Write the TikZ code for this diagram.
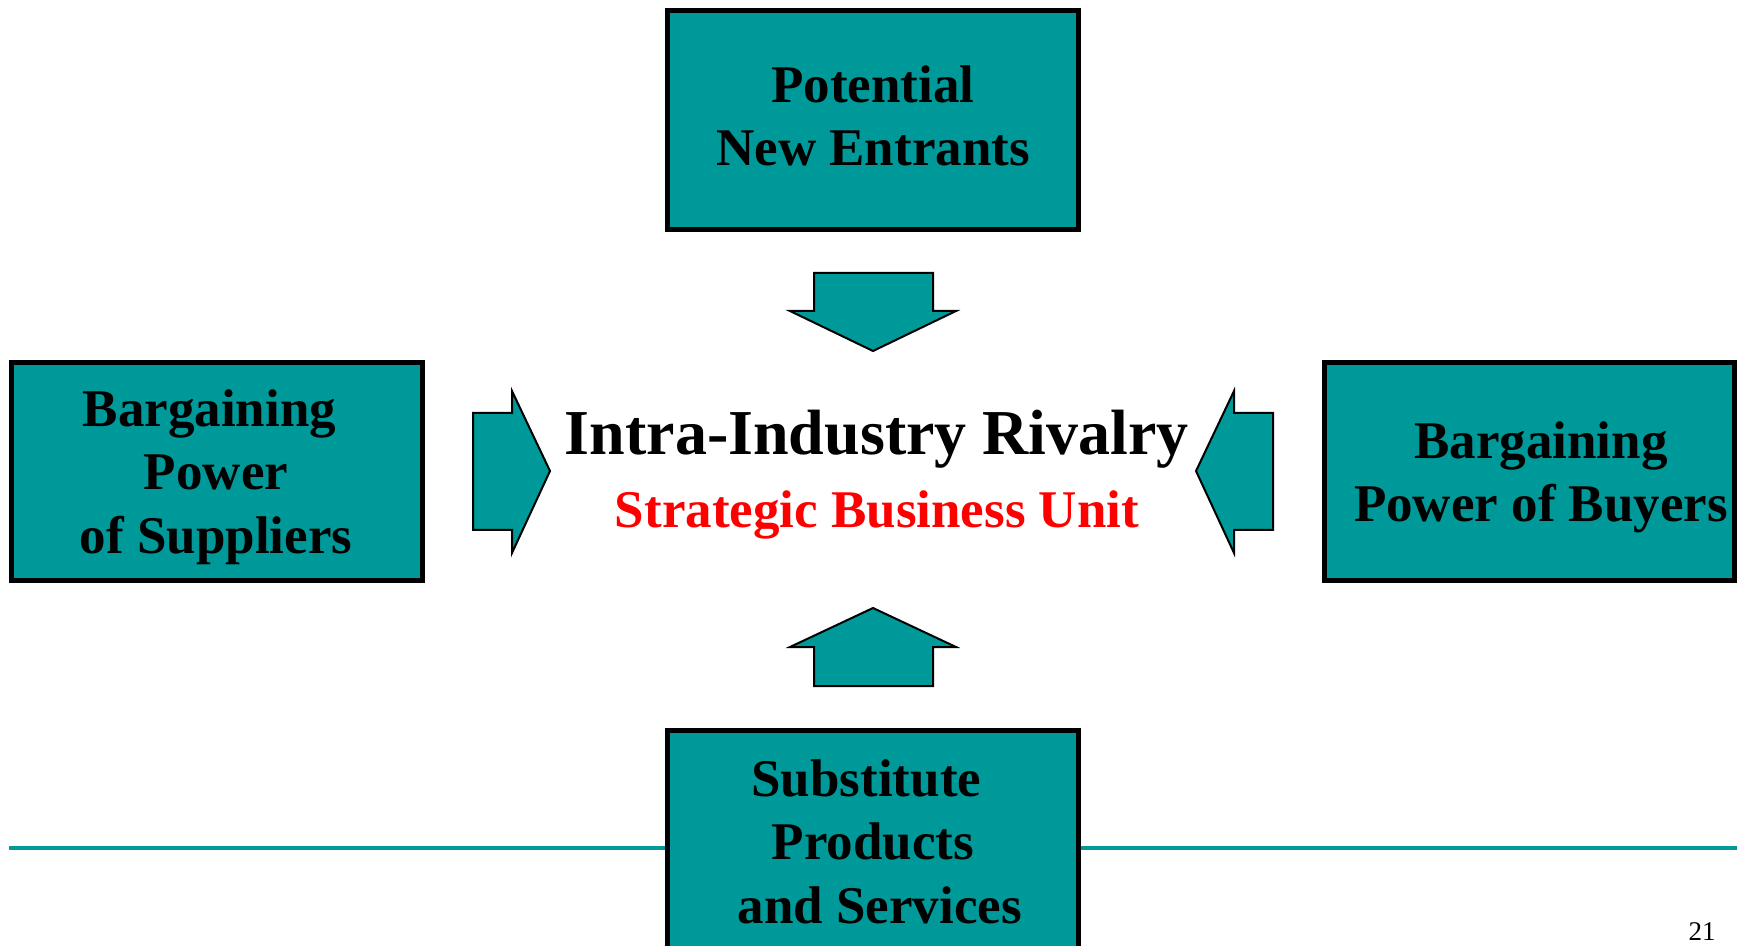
\documentclass[tikz,border=0pt]{standalone}
\usepackage{xcolor}
\usepackage{fontspec}
\setmainfont{Liberation Serif}
\usepackage{tikz}
\definecolor{boxteal}{HTML}{009999}

\begin{document}
\begin{tikzpicture}[x=0.5pt,y=0.5pt]
\tikzstyle{every node}+=[inner sep=0pt]
\tikzstyle{force}=[draw=black, line width=2.5pt, fill=boxteal]
\tikzstyle{blockarrow}=[draw=black, line width=1pt, fill=boxteal, line join=miter]
\tikzstyle{forcetext}=[font=\bfseries\fontsize{26.5}{31.8}\selectfont, align=center, anchor=north]
\useasboundingbox (0,0) rectangle (1741,-946);
\draw [boxteal, line width=2pt] (9,-848) -- (1737,-848);
% the five forces
\draw [force] (667.5,-10.5) rectangle (1078.5,-229.5);
\draw (873,-65) node [forcetext] (entrants) {Potential\\New Entrants};
\draw [force] (11.5,-362.5) rectangle (422.5,-580.5);
\draw (216,-389) node [forcetext] (suppliers) {Bargaining\hspace*{.25em}\\Power\\of Suppliers};
\draw [force] (1324.5,-362.5) rectangle (1734.5,-580.5);
\draw (1541,-421) node [forcetext] (buyers) {Bargaining\\Power of Buyers};
\draw [force] (667.5,-730.5) rectangle (1078.5,-990);
\draw (873,-759) node [forcetext] (substitutes) {Substitute\hspace*{.25em}\\Products\\\hspace*{.25em}and Services};
% centre
\draw (877,-455) node [anchor=base, font=\bfseries\fontsize{32}{38}\selectfont] (rivalry) {Intra-Industry Rivalry};
\draw (877,-528) node [anchor=base, text=red, font=\bfseries\fontsize{26.5}{31.8}\selectfont] (sbu) {Strategic Business Unit};
% block arrows
\draw [blockarrow] (814,-273) -- (933,-273) -- (933,-311) -- (956,-311) -- (873,-351) -- (790,-311) -- (814,-311) -- cycle;
\draw [blockarrow] (814,-686) -- (933,-686) -- (933,-647) -- (956,-647) -- (873,-608) -- (790,-647) -- (814,-647) -- cycle;
\draw [blockarrow] (473,-413) -- (512,-413) -- (512,-391) -- (550,-471) -- (512,-553) -- (512,-530) -- (473,-530) -- cycle;
\draw [blockarrow] (1273,-413) -- (1234,-413) -- (1234,-391) -- (1196,-471) -- (1234,-553) -- (1234,-530) -- (1273,-530) -- cycle;
% page number
\draw (1702,-940) node [anchor=base, font=\fontsize{13.5}{16}\selectfont] (pagenum) {21};
\end{tikzpicture}
\end{document}
